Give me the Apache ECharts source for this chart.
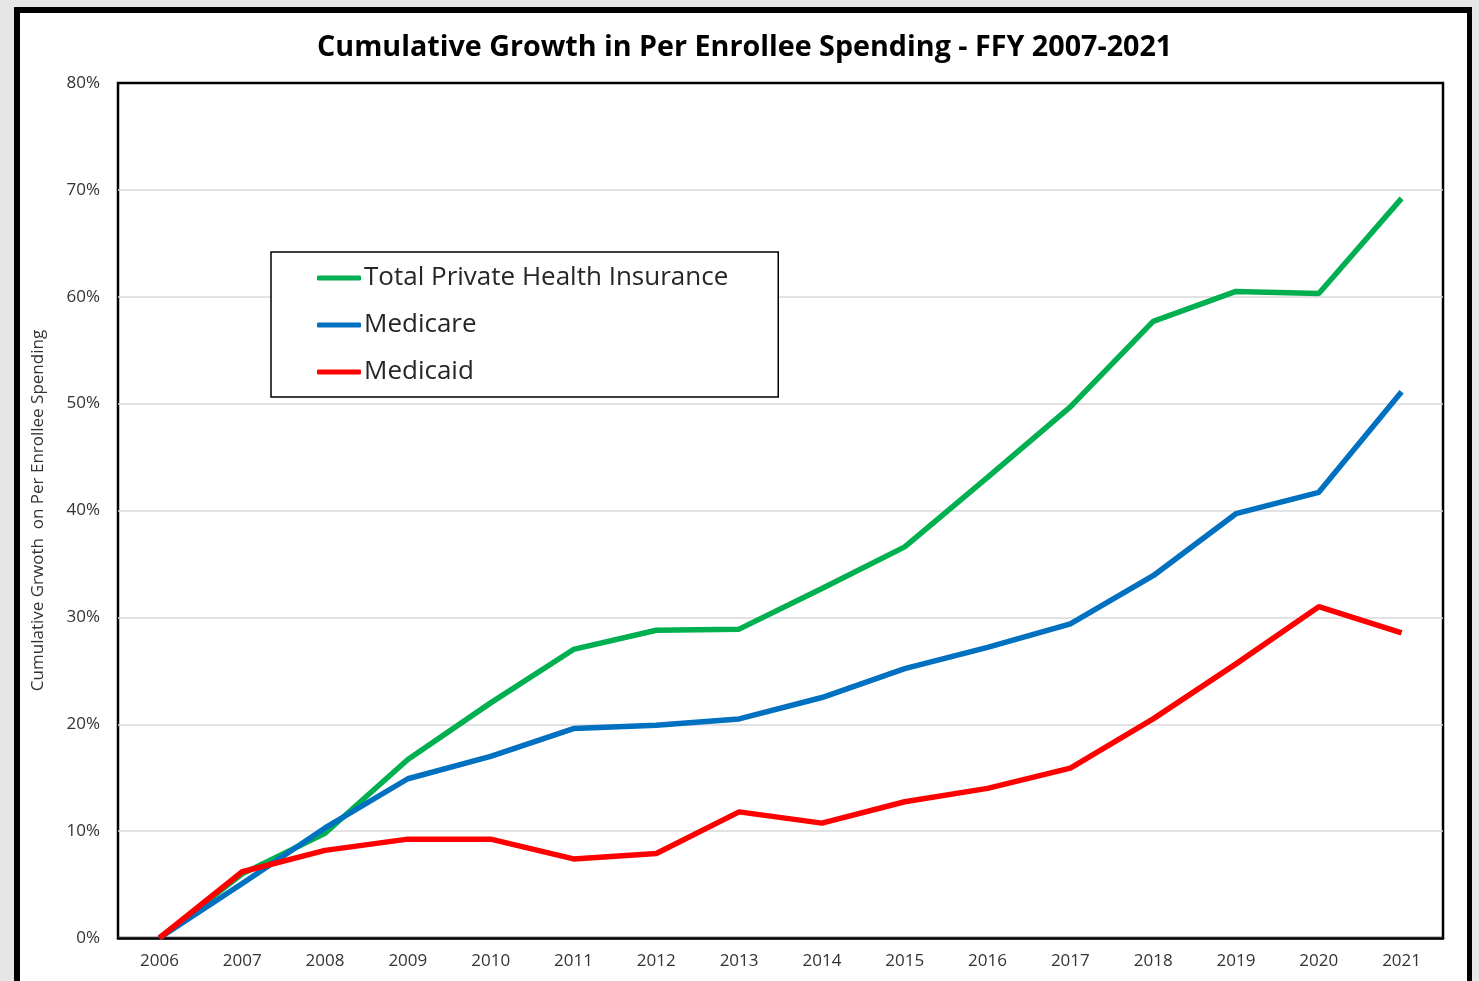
<!DOCTYPE html>
<html>
<head>
<meta charset="utf-8">
<script src="https://cdn.jsdelivr.net/npm/echarts@6/dist/echarts.min.js"></script>
<style>
  html, body { margin: 0; padding: 0; background: #e6e6e6; }
  .frame { position: absolute; left: 14px; top: 7px; width: 1447px; height: 1000px;
           border: 6px solid #000; border-right-width: 5px; background: #fff; }
  #chart { position: absolute; left: 0; top: 0; width: 1479px; height: 981px; }
</style>
</head>
<body>
<div class="frame"></div>
<div id="chart"></div>
<script>
const years = ['2006', '2007', '2008', '2009', '2010', '2011', '2012', '2013',
  '2014', '2015', '2016', '2017', '2018', '2019', '2020', '2021'];
const privateIns = [0, 6.0, 9.8, 16.7, 22.0, 27.0, 28.8, 28.9, 32.7, 36.6, 43.1, 49.7, 57.7, 60.5, 60.3, 69.2];
const medicare = [0, 5.1, 10.3, 14.9, 17.0, 19.6, 19.9, 20.5, 22.5, 25.2, 27.2, 29.4, 33.9, 39.7, 41.7, 51.1];
const medicaid = [0, 6.2, 8.2, 9.25, 9.25, 7.4, 7.9, 11.8, 10.75, 12.75, 14.0, 15.9, 20.5, 25.65, 31.0, 28.55];

const font = '"Open Sans", Lato, sans-serif';

var myChart = echarts.init(document.getElementById('chart'));
myChart.setOption({
  animation: false,
  title: {
    text: 'Cumulative Growth in Per Enrollee Spending - FFY 2007-2021',
    left: 317,
    top: 33,
    padding: 0,
    textStyle: {fontFamily: font, fontSize: 28.7, fontWeight: 'bold', color: '#000'}
  },
  legend: {
    orient: 'vertical',
    left: 271,
    top: 252,
    padding: [13, 50, 12, 46],
    itemGap: 21,
    itemWidth: 44,
    itemHeight: 5,
    icon: 'roundRect',
    selectedMode: false,
    borderColor: '#000',
    borderWidth: 1.5,
    backgroundColor: '#fff',
    textStyle: {fontFamily: font, fontSize: 26, color: '#262626', padding: [0, 0, 0, -2]},
    data: ['Total Private Health Insurance', 'Medicare', 'Medicaid']
  },
  grid: {
    left: 118, right: 36, top: 83, bottom: 43,
    show: true, borderColor: '#000', borderWidth: 2.5,
    containLabel: false
  },
  xAxis: {
    type: 'category',
    data: years,
    boundaryGap: true,
    axisLine: {lineStyle: {color: '#000', width: 2.5}},
    axisTick: {show: false},
    axisLabel: {fontFamily: font, fontSize: 17, color: '#333', margin: 15}
  },
  yAxis: {
    type: 'value',
    min: 0, max: 80, interval: 10,
    name: 'Cumulative Grwoth  on Per Enrollee Spending',
    nameLocation: 'middle',
    nameRotate: 90,
    nameGap: 71,
    nameTextStyle: {fontFamily: font, fontSize: 17, color: '#333'},
    axisLine: {show: false},
    axisTick: {show: false},
    axisLabel: {fontFamily: font, fontSize: 17, color: '#333', margin: 18, formatter: '{value}%'},
    splitLine: {showMaxLine: false, lineStyle: {color: '#d9d9d9', width: 1.5}}
  },
  series: [
    {name: 'Total Private Health Insurance', type: 'line', data: privateIns, symbol: 'none',
      lineStyle: {width: 5.5, color: '#00b050'}, itemStyle: {color: '#00b050'}},
    {name: 'Medicare', type: 'line', data: medicare, symbol: 'none',
      lineStyle: {width: 5.5, color: '#0070c0'}, itemStyle: {color: '#0070c0'}},
    {name: 'Medicaid', type: 'line', data: medicaid, symbol: 'none',
      lineStyle: {width: 5.5, color: '#ff0000'}, itemStyle: {color: '#ff0000'}}
  ]
});
</script>
</body>
</html>
